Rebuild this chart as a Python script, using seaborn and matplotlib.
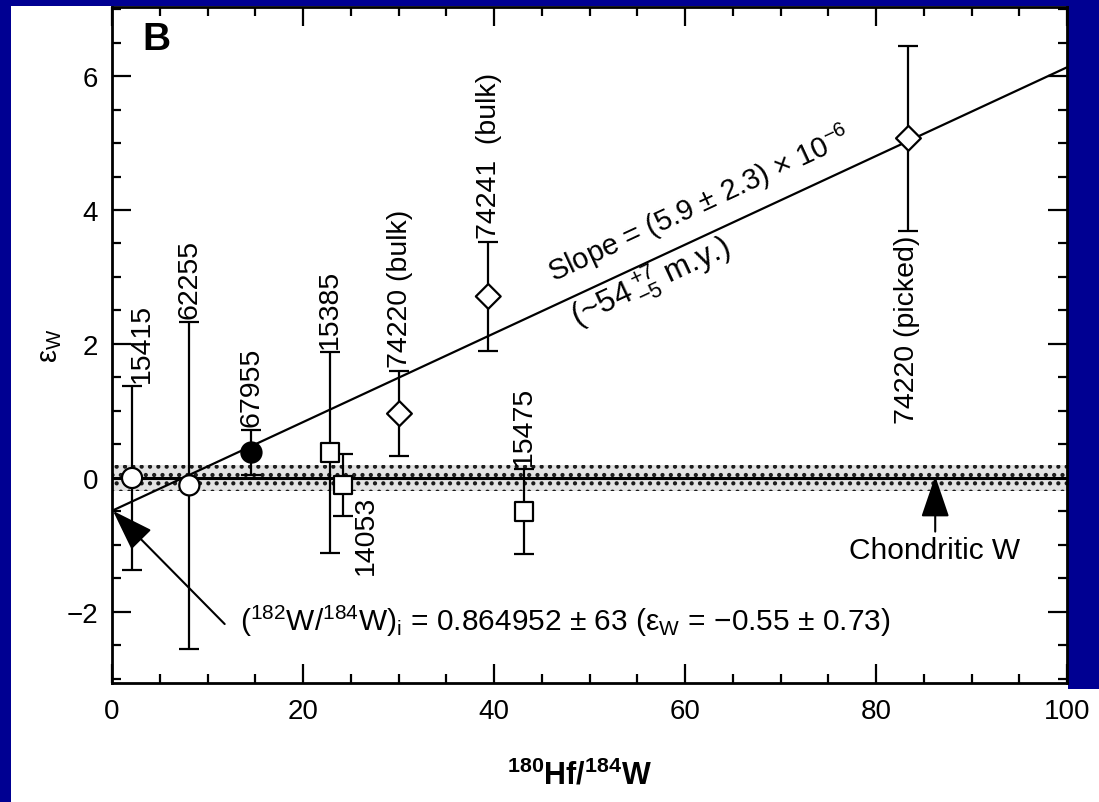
import numpy as np
import pandas as pd
import matplotlib
matplotlib.use("Agg")
import matplotlib.pyplot as plt
from matplotlib.patches import Rectangle
from matplotlib.ticker import MultipleLocator
import seaborn as sns

# ---------------- data ----------------
samples = ["15415", "62255", "67955", "15385", "14053",
           "74220 (bulk)", "74241  (bulk)", "15475", "74220 (picked)"]
hf_w = [2.1, 8.1, 14.6, 22.8, 24.2, 30.1, 39.4, 43.1, 83.4]
eps_w = [0.0, -0.11, 0.38, 0.38, -0.10, 0.96, 2.71, -0.50, 5.07]
eps_err = [1.37, 2.44, 0.34, 1.50, 0.46, 0.63, 0.81, 0.63, 1.38]
shape = ["circle", "circle", "circle", "square", "square",
         "diamond", "diamond", "square", "diamond"]
fill = ["open", "open", "filled", "open", "open",
        "open", "open", "open", "open"]

fit_intercept = -0.49
fit_slope = 0.0662
chondritic_eps = 0.0
chondritic_band = 0.2

x_ticks = [0, 20, 40, 60, 80, 100]
y_ticks = [-2, 0, 2, 4, 6]

# label layout (offset in x, anchor side)
label_dx = [1.0, 0.0, 0.0, 0.0, 2.4, 0.1, 0.1, 0.0, -0.2]
label_side = ["above", "above", "above", "above", "right_below",
              "above", "above", "above", "below"]

df = pd.DataFrame({"x": hf_w, "y": eps_w, "err": eps_err,
                   "shape": shape, "fill": fill, "label": samples})

# ---------------- style ----------------
sns.set_theme(style="ticks")
plt.rcParams["font.family"] = ["Liberation Sans", "DejaVu Sans"]
plt.rcParams["mathtext.fontset"] = "custom"
plt.rcParams["mathtext.rm"] = "Liberation Sans"
plt.rcParams["mathtext.it"] = "Liberation Sans:italic"
plt.rcParams["mathtext.bf"] = "Liberation Sans:bold"
plt.rcParams["hatch.linewidth"] = 1.8
for k in ["text.color", "axes.labelcolor", "xtick.color", "ytick.color",
          "axes.edgecolor"]:
    plt.rcParams[k] = "black"

BLUE = "#000092"
fig = plt.figure(figsize=(10.99, 8.03), dpi=100)
fig.patch.set_facecolor(BLUE)
bg = Rectangle((11 / 1099, 0), 1.0, (803 - 7) / 803,
               transform=fig.transFigure, facecolor="white",
               edgecolor="none", zorder=-10)
fig.patches.append(bg)
strip = Rectangle((1068 / 1099, 1 - 690 / 803), 1.0, 690 / 803,
                  transform=fig.transFigure, facecolor=BLUE,
                  edgecolor="none", zorder=-9)
fig.patches.append(strip)
ax = fig.add_axes([112 / 1099, 1 - 684 / 803, (1067 - 112) / 1099, (684 - 8) / 803])
ax.set_zorder(1)
ax.set_facecolor("white")

ax.set_xlim(0, 100)
ax.set_ylim(-3.06, 7.03)

# chondritic band and line
ax.axhspan(chondritic_eps - chondritic_band, chondritic_eps + chondritic_band,
           facecolor="#e2e2e2", edgecolor="#1a1a1a", hatch="..", lw=0, zorder=1)
ax.axhline(chondritic_eps, color="black", lw=2.2, zorder=2)

# fit line
xs = np.array([0.0, 100.0])
sns.lineplot(x=xs, y=fit_intercept + fit_slope * xs, color="black", lw=1.6,
             ax=ax, zorder=3)

# error bars
ax.errorbar(df["x"], df["y"], yerr=df["err"], fmt="none", ecolor="black",
            elinewidth=1.6, capsize=7.5, capthick=1.6, zorder=4)

# markers
marker_map = {"circle": "o", "square": "s", "diamond": "D"}
size_map = {"circle": 210, "square": 170, "diamond": 160}
for shp in ["circle", "square", "diamond"]:
    sub = df[df["shape"] == shp]
    sns.scatterplot(data=sub, x="x", y="y", hue="fill",
                    palette={"open": "white", "filled": "black"},
                    marker=marker_map[shp], s=size_map[shp],
                    edgecolor="black", linewidth=1.6, legend=False,
                    ax=ax, zorder=5)

# sample labels
LFS = 20.5
for i, row in df.iterrows():
    side = label_side[i]
    lx = row["x"] + label_dx[i]
    if side == "above":
        ax.text(lx, row["y"] + row["err"] + 0.06, row["label"], rotation=90,
                ha="center", va="bottom", fontsize=LFS, zorder=6)
    elif side == "below":
        ax.text(lx, row["y"] - row["err"] - 0.06, row["label"], rotation=90,
                ha="center", va="top", fontsize=LFS, zorder=6)
    else:
        ax.text(lx, chondritic_eps - chondritic_band - 0.05, row["label"], rotation=90,
                ha="center", va="top", fontsize=LFS, zorder=6)

# slope annotations rotated with the line
p0 = ax.transData.transform((0, fit_intercept))
p1 = ax.transData.transform((100, fit_intercept + fit_slope * 100))
ang = np.degrees(np.arctan2(p1[1] - p0[1], p1[0] - p0[0]))
ax.text(46.2, 2.93, r"Slope = (5.9 ± 2.3) × 10$^{-6}$", rotation=ang,
        rotation_mode="anchor", ha="left", va="baseline", fontsize=21)
ax.text(48.6, 2.28, r"(~54$\,^{+7}_{-5}$ m.y.)", rotation=ang,
        rotation_mode="anchor", ha="left", va="baseline", fontsize=22.5)

# intercept arrow and text
arrow_style = "-|>,head_length=0.5,head_width=0.17"
ax.annotate("", xy=(0.1, fit_intercept), xytext=(11.8, -2.18),
            arrowprops=dict(arrowstyle=arrow_style, mutation_scale=52,
                            color="black", lw=1.5, shrinkA=0, shrinkB=0))
ax.text(13.4, -2.27,
        r"($^{182}$W/$^{184}$W)$_\mathrm{i}$ = 0.864952 ± 63 (ε$_\mathrm{W}$ = −0.55 ± 0.73)",
        ha="left", va="baseline", fontsize=21.5)

# chondritic arrow and text
ax.annotate("", xy=(86.2, 0.03), xytext=(86.2, -0.80),
            arrowprops=dict(arrowstyle=arrow_style, mutation_scale=52,
                            color="black", lw=1.5, shrinkA=0, shrinkB=0))
ax.text(86.1, -0.86, "Chondritic W", ha="center", va="top", fontsize=21.5)

# panel letter
ax.text(3.2, 6.29, "B", fontsize=28, fontweight="bold", ha="left", va="bottom")

# axes
ax.set_xticks(x_ticks)
ax.set_yticks(y_ticks)
ax.xaxis.set_minor_locator(MultipleLocator(5))
ax.yaxis.set_minor_locator(MultipleLocator(0.5))
ax.tick_params(which="both", direction="in", top=True, right=True,
               width=1.6, color="black", labelsize=20, labelcolor="black")
ax.tick_params(which="major", length=13.5)
ax.tick_params(which="minor", length=6.5)
ax.tick_params(axis="x", pad=11)
ax.tick_params(axis="y", pad=10)
for sp in ax.spines.values():
    sp.set_linewidth(2.0)
    sp.set_color("black")

ax.set_xlabel(r"$\mathbf{^{180}Hf/^{184}W}$", fontsize=22, color="black")
ax.xaxis.set_label_coords(0.49, -0.112)
ax.set_ylabel(r"$\mathrm{\varepsilon}_\mathrm{W}$", fontsize=21, color="black",
              rotation=90)
ax.yaxis.set_label_coords(-0.05, 0.5)

fig.savefig("out.png", dpi=100, facecolor=fig.get_facecolor())
